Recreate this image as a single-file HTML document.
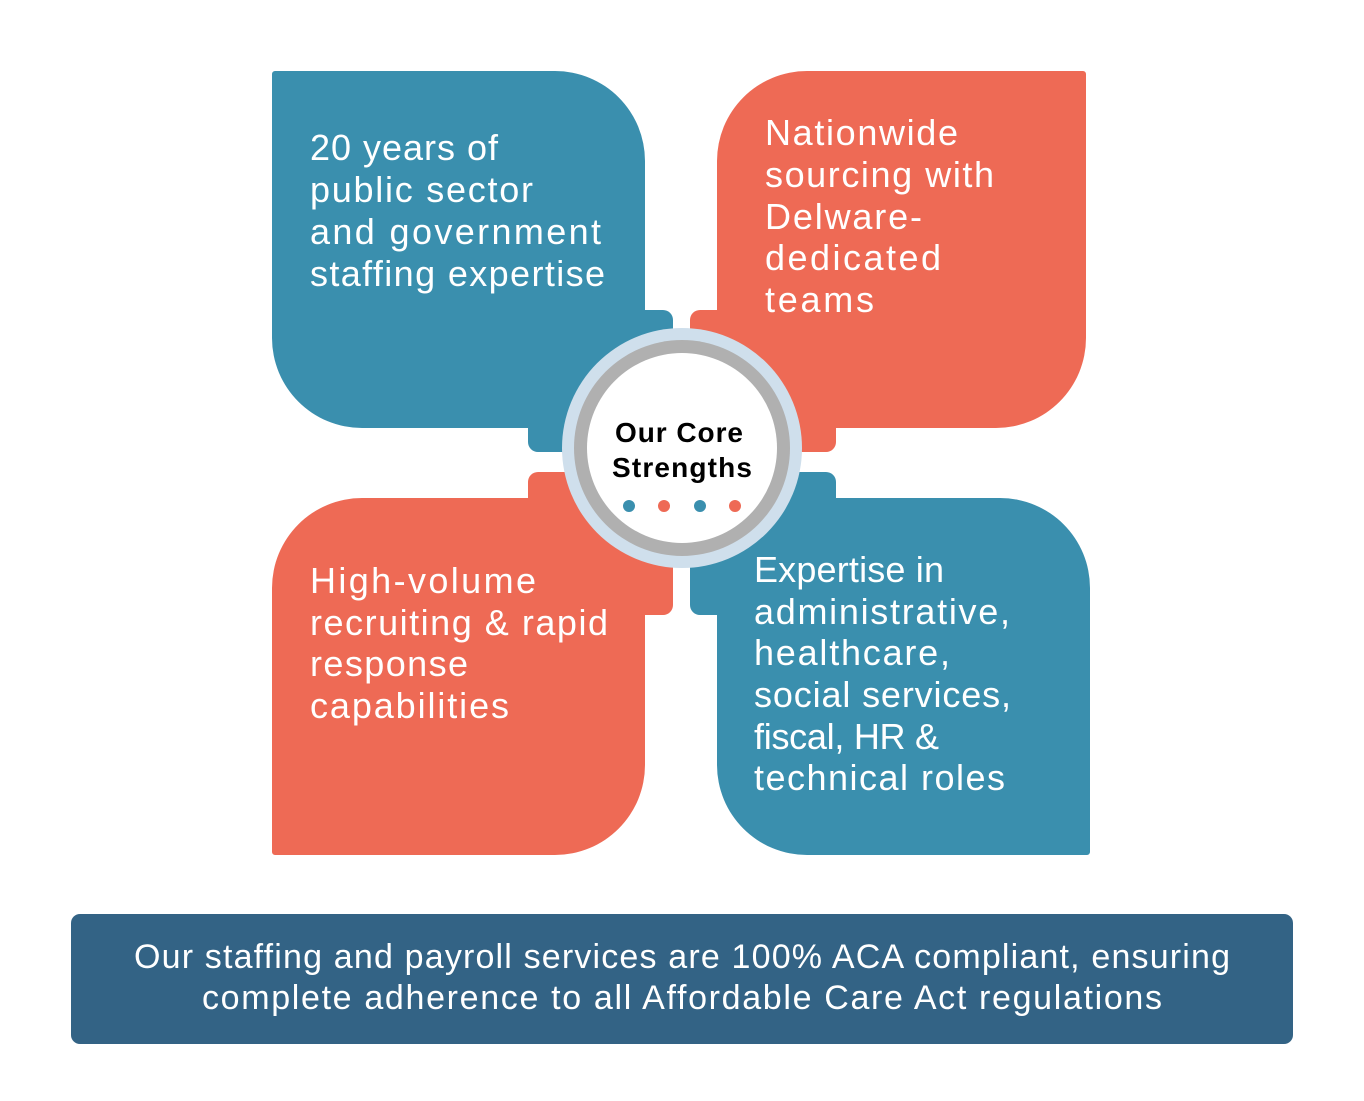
<!DOCTYPE html>
<html><head><meta charset="utf-8"><style>
html,body{margin:0;padding:0;background:#fff;}
svg{display:block;}
text{font-family:"Liberation Sans",sans-serif;}
</style></head><body>
<svg width="1364" height="1101" viewBox="0 0 1364 1101" xmlns="http://www.w3.org/2000/svg">
<rect width="1364" height="1101" fill="#fff"/>
<path fill="#3a8fae" d="M275,71 H555 A90,90 0 0 1 645,161 V310 H663 A10,10 0 0 1 673,320 V452 H538 A10,10 0 0 1 528,442 V428 H362 A90,90 0 0 1 272,338 V74 A3,3 0 0 1 275,71 Z"/>
<path fill="#ee6a55" d="M1083,71 H807 A90,90 0 0 0 717,161 V310 H700 A10,10 0 0 0 690,320 V452 H826 A10,10 0 0 0 836,442 V428 H996 A90,90 0 0 0 1086,338 V74 A3,3 0 0 0 1083,71 Z"/>
<path fill="#ee6a55" d="M275,855 H555 A90,90 0 0 0 645,765 V615 H663 A10,10 0 0 0 673,605 V472 H538 A10,10 0 0 0 528,482 V498 H362 A90,90 0 0 0 272,588 V852 A3,3 0 0 0 275,855 Z"/>
<path fill="#3a8fae" d="M1087,855 H807 A90,90 0 0 1 717,765 V615 H700 A10,10 0 0 1 690,605 V472 H826 A10,10 0 0 1 836,482 V498 H1000 A90,90 0 0 1 1090,588 V852 A3,3 0 0 1 1087,855 Z"/>
<circle cx="682" cy="448" r="120" fill="#cfdfec"/>
<circle cx="682" cy="448" r="108" fill="#b0b0b0"/>
<circle cx="682" cy="448" r="95" fill="#fff"/>
<text x="679" y="442" font-size="28" font-weight="bold" fill="#000" text-anchor="middle" textLength="128">Our Core</text>
<text x="682" y="477" font-size="28" font-weight="bold" fill="#000" text-anchor="middle" textLength="140">Strengths</text>
<circle cx="629" cy="506" r="6" fill="#3a8fae"/>
<circle cx="664" cy="506" r="6" fill="#ee6a55"/>
<circle cx="700" cy="506" r="6" fill="#3a8fae"/>
<circle cx="735" cy="506" r="6" fill="#ee6a55"/>
<g fill="#fff" font-size="36">
<text x="310" y="160" textLength="188">20 years of</text>
<text x="310" y="202" textLength="223">public sector</text>
<text x="310" y="244" textLength="291">and government</text>
<text x="310" y="286" textLength="295">staffing expertise</text>

<text x="765" y="145" textLength="193">Nationwide</text>
<text x="765" y="187" textLength="229">sourcing with</text>
<text x="765" y="229" textLength="157">Delware-</text>
<text x="765" y="270" textLength="176">dedicated</text>
<text x="765" y="312" textLength="109">teams</text>

<text x="310" y="593" textLength="226">High-volume</text>
<text x="310" y="635" textLength="298">recruiting &amp; rapid</text>
<text x="310" y="676" textLength="158">response</text>
<text x="310" y="718" textLength="199">capabilities</text>

<text x="754" y="582" textLength="190">Expertise in</text>
<text x="754" y="624" textLength="256">administrative,</text>
<text x="754" y="665" textLength="196">healthcare,</text>
<text x="754" y="707" textLength="257">social services,</text>
<text x="754" y="749" textLength="185">fiscal, HR &amp;</text>
<text x="754" y="790" textLength="251">technical roles</text>
</g>
<rect x="71" y="914" width="1222" height="130" rx="9" fill="#336385"/>
<g fill="#fff" font-size="34" text-anchor="middle">
<text x="682" y="968" textLength="1096">Our staffing and payroll services are 100% ACA compliant, ensuring</text>
<text x="682" y="1009" textLength="960">complete adherence to all Affordable Care Act regulations</text>
</g>
</svg>
</body></html>
